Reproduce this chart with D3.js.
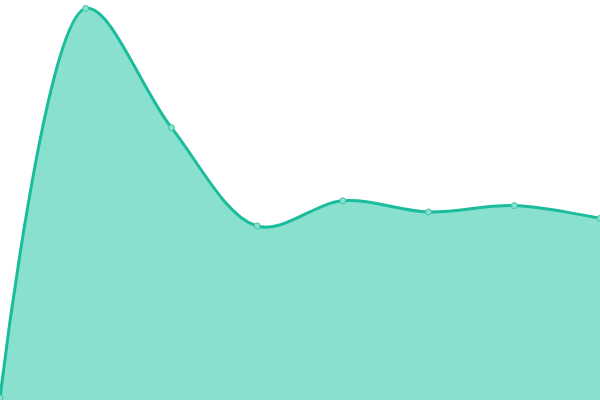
<!DOCTYPE html>
<html>
<head>
<meta charset="utf-8">
<script src="https://cdn.jsdelivr.net/npm/d3@7"></script>
<style>
  html, body { margin: 0; padding: 0; background: #fff; }
  svg { display: block; }
</style>
</head>
<body>
<div id="chart"></div>
<script>
var categories = ['1', '2', '3', '4', '5', '6', '7', '8'];
var values = [0.5, 97.9, 68.1, 43.5, 49.8, 47.0, 48.6, 45.4];

var width = 600, height = 400;

var svg = d3.select('#chart').append('svg')
    .attr('width', width)
    .attr('height', height);

var x = d3.scalePoint().domain(categories).range([0, width]);
var y = d3.scaleLinear().domain([0, 100]).range([height, 0]);

var area = d3.area()
    .x(function (d, i) { return x(categories[i]); })
    .y0(height)
    .y1(function (d) { return y(d); })
    .curve(d3.curveCatmullRom.alpha(0.5));

var line = d3.line()
    .x(function (d, i) { return x(categories[i]); })
    .y(function (d) { return y(d); })
    .curve(d3.curveCatmullRom.alpha(0.5));

svg.append('path')
    .datum(values)
    .attr('d', area)
    .style('fill', '#89e0cf');

svg.append('path')
    .datum(values)
    .attr('d', line)
    .style('fill', 'none')
    .style('stroke', '#1abc9c')
    .style('stroke-width', 3);

svg.selectAll('circle')
    .data(values)
    .enter()
    .append('circle')
    .attr('cx', function (d, i) { return x(categories[i]); })
    .attr('cy', function (d) { return y(d); })
    .attr('r', 3)
    .style('fill', '#8ae0cf')
    .style('stroke', '#3cc6a8')
    .style('stroke-width', 1);
</script>
</body>
</html>
